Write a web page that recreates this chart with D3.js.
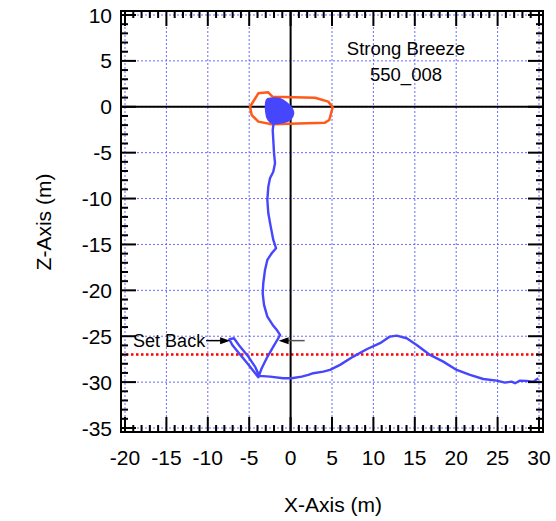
<!DOCTYPE html>
<html><head><meta charset="utf-8">
<script src="https://cdn.jsdelivr.net/npm/d3@7/dist/d3.min.js"></script>
<style>html,body{margin:0;padding:0;background:#fff;}svg{display:block;font-family:"Liberation Sans",Arial,Helvetica,sans-serif;}</style>
</head><body>
<script>
// ---- data ----
const xTicks = [-20,-15,-10,-5,0,5,10,15,20,25,30];
const zTicks = [10,5,0,-5,-10,-15,-20,-25,-30,-35];
const titleLines = ["Strong Breeze","550_008"];
const setBackZ = -27; // red dotted line

// boat outline (orange)
const boatX = [-4.9,-3.9,-2.7,-2.2,2.95,4.55,5.08,4.67,4.15,-2.28,-3.9,-4.7];
const boatZ = [0.0,1.47,1.58,1.1,0.99,0.56,-0.05,-1.44,-1.73,-1.9,-1.62,-0.9];

// dense scribble at start (blue blob)
const blobX = [-2.89,-2.28,-1.28,-0.47,0.13,0.33,-0.07,-0.88,-2.09,-2.69,-2.97];
const blobZ = [0.72,0.9,0.86,0.42,-0.16,-0.75,-1.42,-1.7,-1.8,-1.42,-0.53];

// trajectory (blue)
const trackX = [-2.0,-2.16,-2.09,-2.0,-1.88,-2.09,-2.49,-2.69,-2.81,-2.69,-2.40,-2.09,-1.76,-2.28,-2.81,-3.09,-3.30,-3.37,-3.21,-2.81,-2.16,-1.61,-1.28,-1.49,-2.09,-2.89,-3.49,-3.90,
  -5.23,-6.23,-7.04,-7.40,-6.84,-6.11,-5.11,-4.30,-3.78,
  -2.49,-0.88,0.13,1.34,2.14,2.74,3.95,4.76,5.97,7.57,9.19,10.80,12.0,12.81,14.02,15.23,16.84,18.44,20.06,21.67,23.27,24.89,25.89,26.70,27.10,27.71,28.51,29.31,29.92];
const trackZ = [-1.44,-2.53,-3.62,-5.07,-6.15,-7.07,-7.79,-8.70,-10.15,-11.60,-13.06,-14.51,-15.41,-15.96,-16.69,-17.78,-19.23,-20.32,-21.59,-22.86,-23.77,-24.39,-24.86,-25.22,-26.13,-27.40,-28.49,-29.47,
  -27.94,-26.85,-25.95,-25.33,-25.22,-26.13,-27.22,-28.31,-29.32,
  -29.40,-29.58,-29.58,-29.40,-29.22,-29.03,-28.86,-28.67,-28.12,-27.22,-26.42,-25.76,-25.04,-24.93,-25.22,-25.95,-27.04,-27.77,-28.67,-29.22,-29.66,-29.84,-30.05,-29.95,-30.12,-29.84,-29.87,-29.95,-29.58];

// annotation arrows (data coords)
const arrowLabel = "Set Back";
const arrow1 = {x0:-10.2, x1:-7.3, z:-25.48};
const arrow2 = {x0:1.7, x1:-1.45, z:-25.48};

// ---- drawing ----
const W=556,H=521;
const svg = d3.select("body").append("svg").attr("width",W).attr("height",H);
const x = d3.scaleLinear().domain([-20,30]).range([125,539]);
const y = d3.scaleLinear().domain([-35,10]).range([428,15]);
const pad = 4;
const L=x.range()[0]-pad, R=x.range()[1]+pad, T=y.range()[1]-pad, B=y.range()[0]+pad;

const gridCol = "#6a6aff";
// grid
svg.append("g").selectAll("line").data(xTicks).join("line")
  .attr("x1",d=>x(d)).attr("x2",d=>x(d)).attr("y1",T).attr("y2",B)
  .attr("stroke",gridCol).attr("stroke-width",1).attr("stroke-dasharray","2,2");
svg.append("g").selectAll("line").data(zTicks).join("line")
  .attr("y1",d=>y(d)).attr("y2",d=>y(d)).attr("x1",L).attr("x2",R)
  .attr("stroke",gridCol).attr("stroke-width",1).attr("stroke-dasharray","2,2");

// red dotted line
svg.append("line").attr("x1",L).attr("x2",R).attr("y1",y(setBackZ)).attr("y2",y(setBackZ))
  .attr("stroke","#ff0000").attr("stroke-width",2.5).attr("stroke-dasharray","2.5,2.5");

// zero axes
svg.append("line").attr("x1",x(0)).attr("x2",x(0)).attr("y1",T).attr("y2",B).attr("stroke","#000").attr("stroke-width",2);
svg.append("line").attr("x1",L).attr("x2",R).attr("y1",y(0)).attr("y2",y(0)).attr("stroke","#000").attr("stroke-width",2);

// boat
const boatPts = boatX.map((v,i)=>[v,boatZ[i]]);
svg.append("path").attr("d", d3.line().x(d=>x(d[0])).y(d=>y(d[1])).curve(d3.curveLinearClosed)(boatPts))
  .attr("fill","none").attr("stroke","#ff5a1a").attr("stroke-width",2.5).attr("stroke-linejoin","round");

const blue="#4646ff";
// blob
const blobPts = blobX.map((v,i)=>[v,blobZ[i]]);
svg.append("path").attr("d", d3.line().x(d=>x(d[0])).y(d=>y(d[1])).curve(d3.curveCardinalClosed)(blobPts))
  .attr("fill",blue).attr("stroke",blue).attr("stroke-width",2);

// track
const trackPts = trackX.map((v,i)=>[v,trackZ[i]]);
svg.append("path").attr("d", d3.line().x(d=>x(d[0])).y(d=>y(d[1]))(trackPts))
  .attr("fill","none").attr("stroke",blue).attr("stroke-width",2.4).attr("stroke-linejoin","round");

// frame
svg.append("rect").attr("x",L).attr("y",T).attr("width",R-L).attr("height",B-T)
  .attr("fill","none").attr("stroke","#000").attr("stroke-width",2);

// ticks
const minorX = d3.range(-20,31,1), minorZ = d3.range(-35,11,1);
const tk = svg.append("g").attr("stroke","#000").attr("stroke-width",2);
minorX.forEach(v=>{
  const len = (v%5===0)?15:7;
  tk.append("line").attr("x1",x(v)).attr("x2",x(v)).attr("y1",B).attr("y2",B-len);
  tk.append("line").attr("x1",x(v)).attr("x2",x(v)).attr("y1",T).attr("y2",T+len);
});
minorZ.forEach(v=>{
  const len = (v%5===0)?15:7;
  tk.append("line").attr("y1",y(v)).attr("y2",y(v)).attr("x1",L).attr("x2",L+len);
  tk.append("line").attr("y1",y(v)).attr("y2",y(v)).attr("x1",R).attr("x2",R-len);
});

// tick labels
svg.append("g").selectAll("text").data(xTicks).join("text")
  .attr("x",d=>x(d)).attr("y",465).attr("text-anchor","middle")
  .attr("font-size",21).text(d=>d);
svg.append("g").selectAll("text").data(zTicks).join("text")
  .attr("x",112).attr("y",d=>y(d)).attr("dy","0.36em").attr("text-anchor","end")
  .attr("font-size",21).text(d=>d);

// axis titles
svg.append("text").attr("x",333).attr("y",512).attr("text-anchor","middle").attr("font-size",21).text("X-Axis (m)");
svg.append("text").attr("transform","translate(51,222) rotate(-90)").attr("text-anchor","middle").attr("font-size",21).text("Z-Axis (m)");

// title
svg.append("g").selectAll("text").data(titleLines).join("text")
  .attr("x",406).attr("y",(d,i)=>55+i*26).attr("text-anchor","middle").attr("font-size",18.5).text(d=>d);

// annotation
function arrow(a, shaftCol){
  const y0=y(a.z), xs=x(a.x0), xe=x(a.x1);
  const dir = Math.sign(xe-xs);
  svg.append("line").attr("x1",xs).attr("x2",xe-dir*8).attr("y1",y0).attr("y2",y0).attr("stroke",shaftCol).attr("stroke-width",1.5);
  svg.append("path").attr("d",`M${xe},${y0}L${xe-dir*10},${y0-3.5}L${xe-dir*10},${y0+3.5}Z`).attr("fill","#000");
}
svg.append("text").attr("x",x(arrow1.x0)-1).attr("y",y(arrow1.z)).attr("dy","0.36em").attr("text-anchor","end").attr("font-size",18).text(arrowLabel);
arrow(arrow1,"#000");
arrow(arrow2,"#555");
</script>
</body></html>
